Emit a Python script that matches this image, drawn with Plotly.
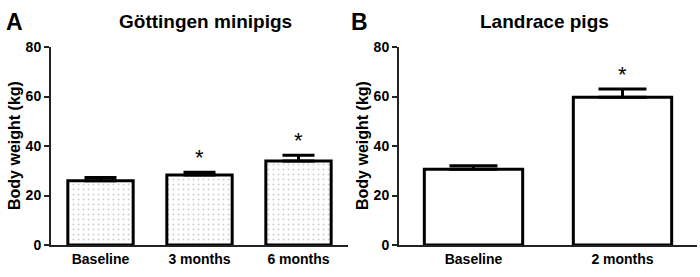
import plotly.graph_objects as go

# Data
cats_a = ["Baseline", "3 months", "6 months"]
vals_a = [26.0, 28.3, 33.9]
err_a = [1.3, 1.1, 2.4]
sig_a = [False, True, True]

cats_b = ["Baseline", "2 months"]
vals_b = [30.6, 59.7]
err_b = [1.4, 3.3]
sig_b = [False, True]

y_ticks = [0, 20, 40, 60, 80]
title_a = "Göttingen minipigs"
title_b = "Landrace pigs"
ylabel = "Body weight (kg)"

W, H = 700, 277
FONT = "Liberation Sans, Arial, sans-serif"

fig = go.Figure()

fig.add_trace(go.Bar(
    x=cats_a, y=vals_a, width=0.66,
    marker=dict(color="white", line=dict(color="black", width=3),
                pattern=dict(shape=".", size=5, solidity=0.12, fgcolor="#999999", bgcolor="white")),
    error_y=dict(type="data", array=err_a, arrayminus=[0]*len(err_a), symmetric=False,
                 color="black", thickness=3, width=16),
    xaxis="x", yaxis="y", showlegend=False, hoverinfo="skip",
))
fig.add_trace(go.Bar(
    x=cats_b, y=vals_b, width=0.66,
    marker=dict(color="white", line=dict(color="black", width=3)),
    error_y=dict(type="data", array=err_b, arrayminus=[0]*len(err_b), symmetric=False,
                 color="black", thickness=3, width=24),
    xaxis="x2", yaxis="y2", showlegend=False, hoverinfo="skip",
))

ann = []
for c, v, e, s in zip(cats_a, vals_a, err_a, sig_a):
    if s:
        ann.append(dict(x=c, y=v + e, xref="x", yref="y", text="*", showarrow=False,
                        yanchor="bottom", yshift=0, font=dict(family=FONT, size=22, color="black")))
for c, v, e, s in zip(cats_b, vals_b, err_b, sig_b):
    if s:
        ann.append(dict(x=c, y=v + e, xref="x2", yref="y2", text="*", showarrow=False,
                        yanchor="bottom", yshift=0, font=dict(family=FONT, size=22, color="black")))

def py(ypx):
    return (245 - ypx) / 198.0

ann += [
    dict(x=4/W, y=py(22), xref="paper", yref="paper", text="<b>A</b>", showarrow=False,
         xanchor="left", yanchor="middle", font=dict(family=FONT, size=23, color="black")),
    dict(x=349/W, y=py(22), xref="paper", yref="paper", text="<b>B</b>", showarrow=False,
         xanchor="left", yanchor="middle", font=dict(family=FONT, size=23, color="black")),
    dict(x=206/W, y=py(22), xref="paper", yref="paper", text="<b>" + title_a + "</b>", showarrow=False,
         xanchor="center", yanchor="middle", font=dict(family=FONT, size=19, color="black")),
    dict(x=544/W, y=py(22), xref="paper", yref="paper", text="<b>" + title_b + "</b>", showarrow=False,
         xanchor="center", yanchor="middle", font=dict(family=FONT, size=19, color="black")),
    dict(x=14/W, y=0.5, xref="paper", yref="paper", text="<b>" + ylabel + "</b>", showarrow=False,
         textangle=-90, xanchor="center", yanchor="middle", font=dict(family=FONT, size=16, color="black")),
    dict(x=362/W, y=0.5, xref="paper", yref="paper", text="<b>" + ylabel + "</b>", showarrow=False,
         textangle=-90, xanchor="center", yanchor="middle", font=dict(family=FONT, size=16, color="black")),
]

xcommon = dict(showline=True, linewidth=2, linecolor="#222", ticks="", showgrid=False, zeroline=False,
               tickfont=dict(family=FONT, size=14, color="black", weight=700), fixedrange=True)
ycommon = dict(range=[0, 80], tickvals=y_ticks, showline=True, linewidth=2, linecolor="#222",
               ticks="outside", ticklen=5, tickwidth=2, tickcolor="#222", showgrid=False, zeroline=False,
               tickfont=dict(family=FONT, size=14, color="black", weight=700), fixedrange=True)

fig.update_layout(
    width=W, height=H,
    margin=dict(l=0, r=0, t=47, b=32),
    paper_bgcolor="white", plot_bgcolor="white",
    xaxis=dict(domain=[51/W, 348/W], range=[-0.5, 2.5], anchor="y", **xcommon),
    yaxis=dict(anchor="x", **ycommon),
    xaxis2=dict(domain=[399/W, 697/W], range=[-0.5, 1.5], anchor="y2", **xcommon),
    yaxis2=dict(anchor="x2", **ycommon),
    annotations=ann,
    bargap=0,
    hovermode=False,
)

fig.write_html("out.html", config={"displayModeBar": False, "staticPlot": True},
               post_script="document.body.style.margin='0px';")
